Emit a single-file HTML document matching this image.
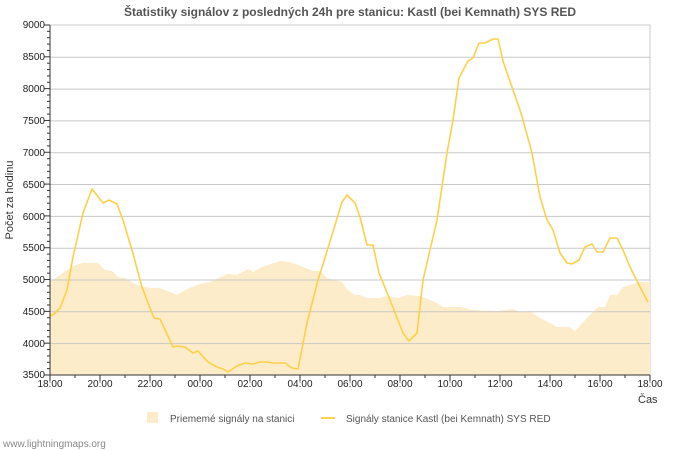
<!DOCTYPE html>
<html><head><meta charset="utf-8"><style>
body{margin:0;background:#fff;}
svg{display:block;font-family:"Liberation Sans","DejaVu Sans",sans-serif;}
</style></head><body>
<svg width="700" height="450" viewBox="0 0 700 450" xmlns="http://www.w3.org/2000/svg">
<text x="350" y="16" text-anchor="middle" font-size="12" font-weight="bold" fill="#555">Štatistiky signálov z posledných 24h pre stanicu: Kastl (bei Kemnath) SYS RED</text>
<rect x="50" y="25" width="600" height="350" fill="#fff" stroke="#ccc"/>
<polygon fill="#fdecc9" points="50,375 50,282 53,280 67,270 73,266 83,263 98,263 105,270 112,271 118,277 125,278 137,285 150,288 160,288 177,295 187,289 200,284 210,282 227,274 237,275 248,269 253,272 262,267 280,261 290,262 303,267 313,271 320,271 327,278 342,282 347,289 355,295 360,295 367,298 380,298 387,296 398,298 407,295 420,296 437,303 443,307 460,307 473,310 497,311 513,309 520,312 530,311 540,318 550,323 557,327 570,327 575,331 587,318 598,307 605,307 610,295 617,295 623,287 630,285 640,282 650,282 650,375"/>
<g stroke="#c8c8c8" stroke-width="1">
<line x1="50" y1="57.3" x2="650" y2="57.3"/><line x1="50" y1="89.1" x2="650" y2="89.1"/><line x1="50" y1="120.9" x2="650" y2="120.9"/><line x1="50" y1="152.7" x2="650" y2="152.7"/><line x1="50" y1="184.5" x2="650" y2="184.5"/><line x1="50" y1="216.4" x2="650" y2="216.4"/><line x1="50" y1="248.2" x2="650" y2="248.2"/><line x1="50" y1="280" x2="650" y2="280"/><line x1="50" y1="311.8" x2="650" y2="311.8"/><line x1="50" y1="343.6" x2="650" y2="343.6"/>
</g>
<polyline fill="none" stroke="#fdd04a" stroke-width="1.6" stroke-linejoin="round" points="50,316 54,314 60,308 67,290 73,257 83,213 92,189 103,203 109,200 117,204 123,220 132,250 142,287 148,303 154,318 160,319 173,347 177,346 185,347 193,353 198,351 208,362 217,367 223,369 228,372 237,366 245,363 253,364 260,362 267,362 273,363 285,363 292,368 298,369 307,323 318,280 328,248 342,202 347,195 355,203 360,217 367,245 373,245 379,273 390,300 403,333 409,341 417,333 423,280 430,250 437,220 447,153 453,120 459,78 468,61 473,58 479,43 485,43 493,39 498,39 503,61 513,90 520,110 523,120 532,153 540,197 547,220 553,230 560,253 567,263 572,264 579,260 585,247 592,244 597,252 603,252 610,238 617,238 623,250 630,267 640,287 648,302"/>
<line x1="50" y1="25" x2="50" y2="375" stroke="#333"/>
<line x1="50" y1="375" x2="650" y2="375" stroke="#333"/>
<g stroke="#333" id="yt"></g>
<g font-size="10" fill="#222" text-anchor="end">
<text x="45" y="28">9000</text><text x="45" y="60">8500</text><text x="45" y="92">8000</text><text x="45" y="124">7500</text><text x="45" y="156">7000</text><text x="45" y="188">6500</text><text x="45" y="220">6000</text><text x="45" y="251">5500</text><text x="45" y="283">5000</text><text x="45" y="315">4500</text><text x="45" y="347">4000</text><text x="45" y="378">3500</text>
</g>
<g font-size="10" fill="#222" text-anchor="middle">
<text x="50" y="387">18:00</text><text x="100" y="387">20:00</text><text x="150" y="387">22:00</text><text x="200" y="387">00:00</text><text x="250" y="387">02:00</text><text x="300" y="387">04:00</text><text x="350" y="387">06:00</text><text x="400" y="387">08:00</text><text x="450" y="387">10:00</text><text x="500" y="387">12:00</text><text x="550" y="387">14:00</text><text x="600" y="387">16:00</text><text x="650" y="387">18:00</text>
</g>
<text x="638" y="403" font-size="11" fill="#333">Čas</text>
<text transform="translate(13,200) rotate(-90)" font-size="11" fill="#333" text-anchor="middle">Počet za hodinu</text>
<rect x="147" y="412" width="11" height="11" fill="#fdecc9"/>
<text x="170" y="422" font-size="10" fill="#555">Priememé signály na stanici</text>
<line x1="321" y1="418" x2="335" y2="418" stroke="#fdd04a" stroke-width="2"/>
<text x="346" y="422" font-size="10" fill="#555">Signály stanice Kastl (bei Kemnath) SYS RED</text>
<text x="3" y="447" font-size="10" fill="#888">www.lightningmaps.org</text>
</svg>
<script>
var g=document.getElementById('yt'),s='';
for(var i=0;i<=55;i++){var y=375-i*350/55;var l=(i%5==0)?6:3;s+='<line x1="'+(50-l)+'" y1="'+y+'" x2="50" y2="'+y+'"/>';}
for(var h=0;h<=24;h++){var x=50+h*25;var l=(h%2==0)?6:3;s+='<line x1="'+x+'" y1="375" x2="'+x+'" y2="'+(375+l)+'"/>';}
g.innerHTML=s;
</script>
</body></html>
